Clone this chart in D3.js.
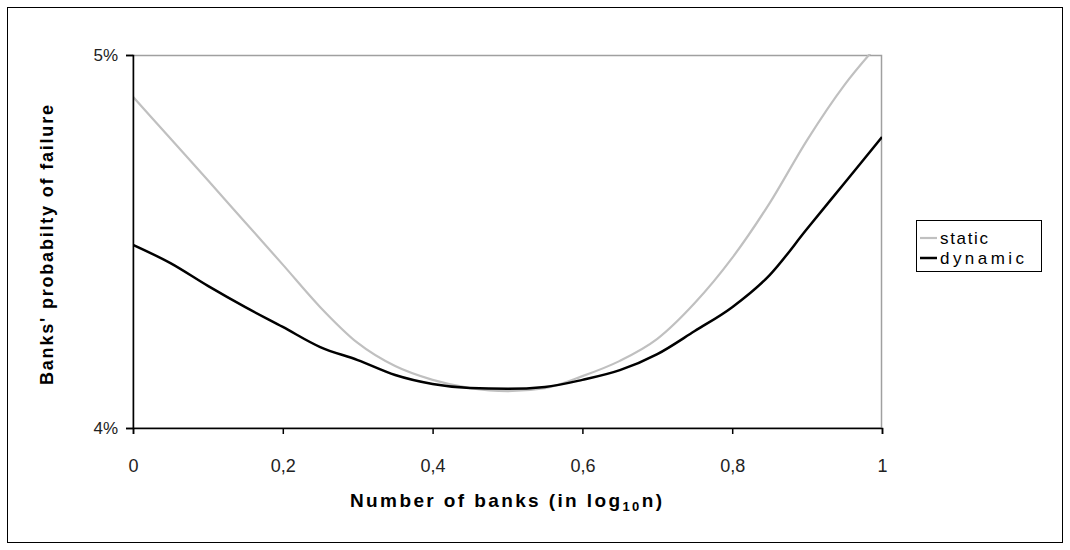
<!DOCTYPE html>
<html><head><meta charset="utf-8">
<script src="https://cdn.jsdelivr.net/npm/d3@7"></script>
<style>body{margin:0;background:#fff}svg{display:block}</style>
</head><body>
<svg id="c" width="1070" height="550"></svg>
<script>
const xValues = [0,0.05,0.1,0.15,0.2,0.25,0.3,0.35,0.4,0.45,0.5,0.55,0.6,0.65,0.7,0.75,0.8,0.85,0.9,0.95,1];
const staticValues = [4.888,4.776,4.664,4.551,4.438,4.324,4.228,4.166,4.129,4.107,4.099,4.107,4.139,4.180,4.239,4.335,4.456,4.603,4.772,4.920,5.040];
const dynamicValues = [4.491,4.442,4.381,4.324,4.271,4.217,4.182,4.142,4.118,4.107,4.105,4.110,4.129,4.155,4.198,4.260,4.324,4.410,4.534,4.657,4.780];
const xTicks = [0,0.2,0.4,0.6,0.8,1];
const xTickLabels = ["0","0,2","0,4","0,6","0,8","1"];
const yTicks = [4,5];
const yTickLabels = ["4%","5%"];
const seriesNames = ["static","dynamic"];

const svg = d3.select("#c");
const L=133, R=882, T=55, B=428;
const x = d3.scaleLinear().domain([0,1]).range([L,R]);
const y = d3.scaleLinear().domain([4,5]).range([B,T]);
const font = "'Liberation Sans', Arial, sans-serif";

// outer chart border
svg.append("rect").attr("x",7.5).attr("y",7.5).attr("width",1055).attr("height",535)
  .attr("fill","none").attr("stroke","#000").attr("stroke-width",1);

// plot area border (gray)
svg.append("rect").attr("x",L).attr("y",T+0.5).attr("width",R-L-0.5).attr("height",B-T-0.5)
  .attr("fill","none").attr("stroke","#a0a0a0").attr("stroke-width",1.5);

svg.append("clipPath").attr("id","clip").append("rect")
  .attr("x",L).attr("y",T-1).attr("width",R-L).attr("height",B-T+1);

const line = d3.line().x((d,i)=>x(xValues[i])).y(d=>y(d)).curve(d3.curveMonotoneX);
const g = svg.append("g").attr("clip-path","url(#clip)");
g.append("path").datum(staticValues).attr("d",line).attr("fill","none")
  .attr("stroke","#c0c0c0").attr("stroke-width",2.2);
g.append("path").datum(dynamicValues).attr("d",line).attr("fill","none")
  .attr("stroke","#000").attr("stroke-width",2.5);

// axes
const xAxis = d3.axisBottom(x).tickValues(xTicks).tickFormat((d,i)=>xTickLabels[i]).tickSizeOuter(0).tickSize(6).tickPadding(32);
const gx = svg.append("g").attr("transform",`translate(0,${B})`).call(xAxis);
const yAxis = d3.axisLeft(y).tickValues(yTicks).tickFormat((d,i)=>yTickLabels[i]).tickSizeOuter(0).tickSize(7).tickPadding(8);
const gy = svg.append("g").attr("transform",`translate(${L},0)`).call(yAxis);
[gx,gy].forEach(a=>{
  a.selectAll("path,line").attr("stroke","#000").attr("stroke-width",1.5);
  a.selectAll("text").attr("font-family",font).attr("font-size",18).attr("fill","#222");
});
gx.selectAll("text").attr("dy","0.35em");
gy.selectAll("text").attr("font-size",17).attr("dy","0.35em");

// axis titles
svg.append("text").attr("transform","translate(53,245) rotate(-90)").attr("text-anchor","middle")
  .attr("font-family",font).attr("font-weight","bold").attr("font-size",18)
  .attr("textLength",280).attr("lengthAdjust","spacing").text("Banks' probabilty of failure");
const xt = svg.append("text").attr("x",350).attr("y",507)
  .attr("font-family",font).attr("font-weight","bold").attr("font-size",19)
  .attr("textLength",312).attr("lengthAdjust","spacing");
xt.append("tspan").text("Number of banks (in log");
xt.append("tspan").attr("font-size",13).attr("dy",4).text("10");
xt.append("tspan").attr("dy",-4).text("n)");

// legend
const lg = svg.append("g");
lg.append("rect").attr("x",916.5).attr("y",220.5).attr("width",125).attr("height",51)
  .attr("fill","#fff").attr("stroke","#000").attr("stroke-width",1);
const colors = ["#c0c0c0","#000"];
const legendLen = [48,84];
seriesNames.forEach((n,i)=>{
  const yy = 238 + i*20;
  lg.append("line").attr("x1",920).attr("x2",937).attr("y1",yy).attr("y2",yy)
    .attr("stroke",colors[i]).attr("stroke-width",i?2.5:2.2);
  lg.append("text").attr("x",940).attr("y",yy+6).attr("font-family",font).attr("font-size",17)
    .attr("textLength",legendLen[i]).attr("lengthAdjust","spacing").text(n);
});
</script>
</body></html>
